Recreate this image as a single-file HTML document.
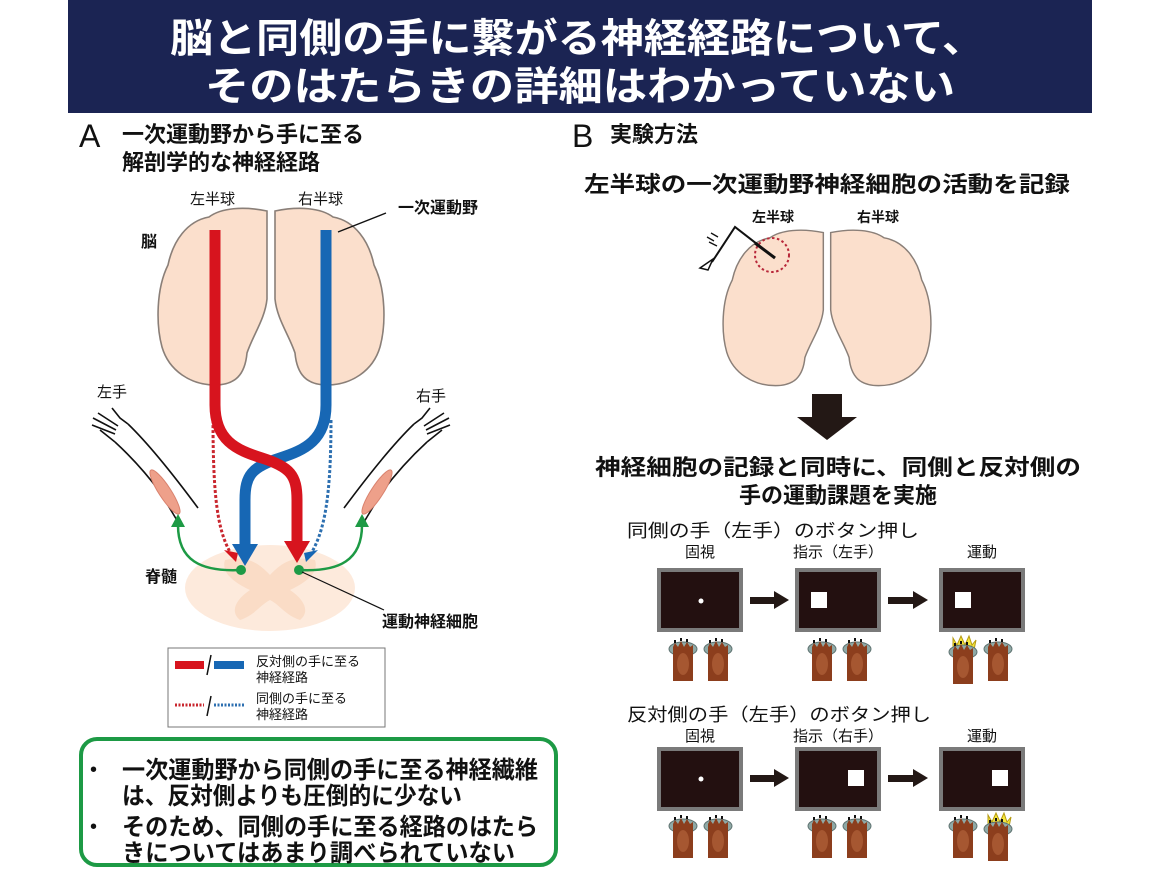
<!DOCTYPE html>
<html><head><meta charset="utf-8"><style>
html,body{margin:0;padding:0;background:#fff;}
svg{display:block;}
text{font-family:"Liberation Sans","Noto Sans CJK JP",sans-serif;}
</style></head><body>
<svg width="1160" height="870" viewBox="0 0 1160 870" xmlns="http://www.w3.org/2000/svg">
<defs>
<path id="hemi" d="M-4,4 C-28,-1 -50,1 -62,10 C-84,14 -98,34 -103,58 C-115,82 -115,118 -109,140 C-102,164 -80,178 -56,178 C-36,178 -26,168 -24,146 C-18,128 -6,112 -4,92 Z" fill="#fbdfcc" stroke="#8a7f78" stroke-width="1.6"/>
<g id="hand">
<ellipse cx="0" cy="6" rx="14" ry="7" fill="#8fa9a6" stroke="#5d716f" stroke-width="1"/>
<path d="M-10,4 L-8,0 L-5,4 L-2,-2 L1,4 L4,-1 L7,4 L10,2 L10,38 L-10,38 Z" fill="#8c3e1d"/>
<ellipse cx="0" cy="21" rx="6" ry="11" fill="#b0623a" opacity="0.7"/>
<path d="M-8,0 l0,-3 M-2,-2 l0,-3 M4,-1 l0,-3" stroke="#111" stroke-width="2"/>
</g>
<g id="arm">
<path d="M115,442 Q140,465 160,492 L178,522" fill="none" stroke="#111" stroke-width="1.6"/>
<path d="M128,424 Q155,450 198,508" fill="none" stroke="#111" stroke-width="1.6"/>
<path d="M128,424 L120,418 L112,408 M118,426 L98,413 M116,430 L93,418 M115,434 L92,425 M115,442 L100,430" fill="none" stroke="#111" stroke-width="1.6"/>
<ellipse cx="165" cy="492" rx="6" ry="26" transform="rotate(-33 165 492)" fill="#eea08a" stroke="#d9826e" stroke-width="1"/>
</g>
</defs>

<!-- header -->
<rect x="68" y="0" width="1024" height="113" fill="#1b2453"/>
<text x="170" y="52" font-size="40" font-weight="bold" fill="#fff" textLength="815" lengthAdjust="spacingAndGlyphs">脳と同側の手に繋がる神経経路について、</text>
<text x="205" y="100" font-size="40" font-weight="bold" fill="#fff" textLength="750" lengthAdjust="spacingAndGlyphs">そのはたらきの詳細はわかっていない</text>

<!-- Panel A -->
<text x="79" y="147" font-size="32" fill="#111">A</text>
<text x="122" y="142" font-size="22" font-weight="bold" fill="#111">一次運動野から手に至る</text>
<text x="122" y="170" font-size="22" font-weight="bold" fill="#111">解剖学的な神経経路</text>
<text x="190" y="204" font-size="15" fill="#111">左半球</text>
<text x="298" y="204" font-size="15" fill="#111">右半球</text>
<text x="398" y="213" font-size="16" font-weight="bold" fill="#111">一次運動野</text>
<text x="141" y="247" font-size="16" font-weight="bold" fill="#111">脳</text>
<text x="97" y="397" font-size="15" fill="#111">左手</text>
<text x="416" y="401" font-size="15" fill="#111">右手</text>
<text x="145" y="582" font-size="16" font-weight="bold" fill="#111">脊髄</text>
<text x="382" y="627" font-size="16" font-weight="bold" fill="#111">運動神経細胞</text>

<g transform="translate(271,207)">
<use href="#hemi"/>
<use href="#hemi" transform="scale(-1,1)"/>
</g>
<line x1="338" y1="232" x2="386" y2="213" stroke="#111" stroke-width="1.4"/>

<!-- spinal cord -->
<ellipse cx="270" cy="588" rx="85" ry="43" fill="#fdeadc"/>
<path d="M225,560 C250,555 260,565 270,575 C280,565 290,555 315,560 C320,575 300,585 290,590 C305,600 310,612 300,620 C285,615 280,605 270,600 C260,605 255,615 240,620 C230,612 235,600 250,590 C240,585 220,575 225,560 Z" fill="#fadcc6"/>

<use href="#arm"/>
<use href="#arm" transform="translate(542,0) scale(-1,1)"/>

<!-- dotted paths -->
<path d="M213,420 C213,500 218,530 230,552" fill="none" stroke="#c9262e" stroke-width="3" stroke-dasharray="3,2"/>
<polygon points="224,550 238,553 236,562" fill="#d7141e"/>
<path d="M331,420 C331,500 324,530 312,552" fill="none" stroke="#2c6fb0" stroke-width="3" stroke-dasharray="3,2"/>
<polygon points="318,550 304,553 306,562" fill="#1767b4"/>

<!-- blue and red thick -->
<path d="M326,230 L326,405 C326,440 305,450 280,458 C252,467 245,475 245,500 L245,545" fill="none" stroke="#1767b4" stroke-width="11"/>
<polygon points="232,544 258,544 245,566" fill="#1767b4"/>
<path d="M215,230 L215,405 C215,440 236,450 262,458 C290,467 297,475 297,500 L297,542" fill="none" stroke="#d7141e" stroke-width="11"/>
<polygon points="284,541 310,541 297,563" fill="#d7141e"/>

<!-- green -->
<path d="M241,570 C200,572 178,560 178,525" fill="none" stroke="#1d9a45" stroke-width="2.5"/>
<polygon points="171,527 185,527 178,514" fill="#1d9a45"/>
<path d="M299,570 C340,572 362,560 362,525" fill="none" stroke="#1d9a45" stroke-width="2.5"/>
<polygon points="355,527 369,527 362,514" fill="#1d9a45"/>
<circle cx="241" cy="570" r="5" fill="#1d9a45"/>
<circle cx="299" cy="570" r="5" fill="#1d9a45"/>
<line x1="302" y1="572" x2="384" y2="610" stroke="#111" stroke-width="1.2"/>

<!-- legend -->
<rect x="168" y="648" width="217" height="79" fill="#fff" stroke="#777" stroke-width="1"/>
<rect x="175" y="661" width="29" height="8" fill="#d7141e"/>
<line x1="207" y1="675" x2="211" y2="655" stroke="#111" stroke-width="1.5"/>
<rect x="214" y="661" width="30" height="8" fill="#1767b4"/>
<text x="256" y="666" font-size="13" fill="#111">反対側の手に至る</text>
<text x="256" y="682" font-size="13" fill="#111">神経経路</text>
<line x1="175" y1="705" x2="204" y2="705" stroke="#c9262e" stroke-width="3" stroke-dasharray="2,1.5"/>
<line x1="207" y1="716" x2="211" y2="696" stroke="#111" stroke-width="1.5"/>
<line x1="214" y1="705" x2="244" y2="705" stroke="#2c6fb0" stroke-width="3" stroke-dasharray="2,1.5"/>
<text x="256" y="703" font-size="13" fill="#111">同側の手に至る</text>
<text x="256" y="719" font-size="13" fill="#111">神経経路</text>

<!-- green box -->
<rect x="81" y="739" width="475" height="126" rx="16" fill="#fff" stroke="#1d9a45" stroke-width="4"/>
<text x="90" y="776" font-size="20" fill="#111">•</text>
<text x="90" y="833" font-size="20" fill="#111">•</text>
<text x="122" y="778" font-size="24" font-weight="bold" fill="#111" textLength="416" lengthAdjust="spacingAndGlyphs">一次運動野から同側の手に至る神経繊維</text>
<text x="122" y="804" font-size="24" font-weight="bold" fill="#111" textLength="340" lengthAdjust="spacingAndGlyphs">は、反対側よりも圧倒的に少ない</text>
<text x="122" y="835" font-size="24" font-weight="bold" fill="#111" textLength="416" lengthAdjust="spacingAndGlyphs">そのため、同側の手に至る経路のはたら</text>
<text x="122" y="861" font-size="24" font-weight="bold" fill="#111" textLength="393" lengthAdjust="spacingAndGlyphs">きについてはあまり調べられていない</text>

<!-- Panel B -->
<text x="572" y="147" font-size="32" fill="#111">B</text>
<text x="610" y="142" font-size="22" font-weight="bold" fill="#111">実験方法</text>
<text x="827" y="192" font-size="22" font-weight="bold" fill="#111" text-anchor="middle" textLength="486" lengthAdjust="spacingAndGlyphs">左半球の一次運動野神経細胞の活動を記録</text>
<text x="752" y="222" font-size="14" font-weight="bold" fill="#111">左半球</text>
<text x="857" y="222" font-size="14" font-weight="bold" fill="#111">右半球</text>
<g transform="translate(827,229) scale(0.92,0.88)">
<use href="#hemi"/>
<use href="#hemi" transform="scale(-1,1)"/>
</g>
<circle cx="772" cy="255" r="17" fill="none" stroke="#b8283a" stroke-width="2" stroke-dasharray="2.5,2.5"/>
<path d="M775,258 L735,227 L712,262" fill="none" stroke="#111" stroke-width="2"/>
<path d="M775,258 L755,243" stroke="#111" stroke-width="3"/>
<polygon points="700,268 713,259 708,270" fill="#fff" stroke="#111" stroke-width="1.5"/>
<path d="M709,242 l8,4 M707,237 l7,4 M711,233 l7,4" stroke="#111" stroke-width="1.3"/>
<rect x="812" y="394" width="30" height="24" fill="#231815"/>
<polygon points="797,417 857,417 827,440" fill="#231815"/>

<text x="838" y="475" font-size="22" font-weight="bold" fill="#111" text-anchor="middle" textLength="486" lengthAdjust="spacingAndGlyphs">神経細胞の記録と同時に、同側と反対側の</text>
<text x="838" y="503" font-size="22" font-weight="bold" fill="#111" text-anchor="middle">手の運動課題を実施</text>

<text x="627" y="537" font-size="18" fill="#111" textLength="292" lengthAdjust="spacingAndGlyphs">同側の手（左手）のボタン押し</text>
<text x="700" y="557" font-size="15" fill="#111" text-anchor="middle">固視</text>
<text x="838" y="557" font-size="15" fill="#111" text-anchor="middle">指示（左手）</text>
<text x="982" y="557" font-size="15" fill="#111" text-anchor="middle">運動</text>
<g fill="#231010" stroke="#7a7a7a" stroke-width="4">
<rect x="659" y="570" width="82" height="60"/>
<rect x="797" y="570" width="82" height="60"/>
<rect x="941" y="570" width="82" height="60"/>
</g>
<circle cx="701" cy="601" r="2.5" fill="#fff"/>
<rect x="811" y="592" width="16" height="16" fill="#fff"/>
<rect x="955" y="592" width="16" height="16" fill="#fff"/>
<g fill="#231815">
<rect x="750" y="597" width="25" height="7"/><polygon points="774,591 789,600 774,609"/>
<rect x="888" y="597" width="26" height="7"/><polygon points="913,591 928,600 913,609"/>
</g>
<use href="#hand" x="683" y="643"/>
<use href="#hand" x="718" y="643"/>
<use href="#hand" x="822" y="643"/>
<use href="#hand" x="857" y="643"/>
<polygon points="953,638 957,645 961,636 965,645 969,636 972,645 976,640 974,650 953,650" fill="#f5e63a" stroke="#b59a10" stroke-width="1"/>
<use href="#hand" x="963" y="646"/>
<use href="#hand" x="998" y="643"/>

<text x="627" y="721" font-size="18" fill="#111" textLength="304" lengthAdjust="spacingAndGlyphs">反対側の手（左手）のボタン押し</text>
<text x="700" y="741" font-size="15" fill="#111" text-anchor="middle">固視</text>
<text x="838" y="741" font-size="15" fill="#111" text-anchor="middle">指示（右手）</text>
<text x="982" y="741" font-size="15" fill="#111" text-anchor="middle">運動</text>
<g fill="#231010" stroke="#7a7a7a" stroke-width="4">
<rect x="659" y="749" width="82" height="60"/>
<rect x="797" y="749" width="82" height="60"/>
<rect x="941" y="749" width="82" height="60"/>
</g>
<circle cx="701" cy="779" r="2.5" fill="#fff"/>
<rect x="848" y="770" width="16" height="16" fill="#fff"/>
<rect x="992" y="770" width="16" height="16" fill="#fff"/>
<g fill="#231815">
<rect x="750" y="775" width="25" height="7"/><polygon points="774,769 789,778 774,787"/>
<rect x="888" y="775" width="26" height="7"/><polygon points="913,769 928,778 913,787"/>
</g>
<use href="#hand" x="683" y="820"/>
<use href="#hand" x="718" y="820"/>
<use href="#hand" x="822" y="820"/>
<use href="#hand" x="857" y="820"/>
<use href="#hand" x="963" y="820"/>
<polygon points="988,815 992,822 996,813 1000,822 1004,813 1007,822 1011,817 1009,827 988,827" fill="#f5e63a" stroke="#b59a10" stroke-width="1"/>
<use href="#hand" x="998" y="823"/>
</svg>
</body></html>
